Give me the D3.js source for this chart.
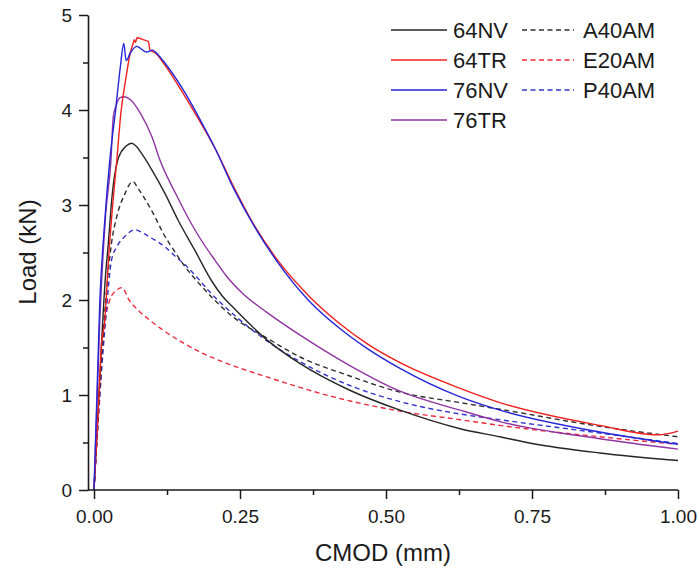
<!DOCTYPE html>
<html>
<head>
<meta charset="utf-8">
<script src="https://cdn.jsdelivr.net/npm/d3@7"></script>
<style>
  html, body { margin: 0; padding: 0; background: #fff; }
  svg { display: block; font-family: "Liberation Sans", Arial, Helvetica, sans-serif; }
</style>
</head>
<body>
<svg id="chart" width="699" height="571"></svg>
<script>
// ---- data ----
const seriesNames = ["64NV", "64TR", "76NV", "76TR", "A40AM", "E20AM", "P40AM"];

const cmod64NV = [0, 0.010, 0.019, 0.0245, 0.031, 0.042, 0.055, 0.0645, 0.072, 0.0817, 0.099, 0.1216, 0.144, 0.173, 0.2015, 0.22, 0.2385, 0.296, 0.353, 0.438, 0.524, 0.627, 0.695, 0.75, 0.866, 1.0];
const load64NV = [0, 1.2, 2.2, 2.6, 3.1, 3.5, 3.62, 3.65, 3.62, 3.54, 3.37, 3.12, 2.84, 2.52, 2.2, 2.04, 1.92, 1.58, 1.33, 1.05, 0.84, 0.645, 0.56, 0.49, 0.39, 0.31];

const cmod64TR = [0, 0.007, 0.013, 0.018, 0.025, 0.032, 0.039, 0.046, 0.055, 0.062, 0.067, 0.069, 0.071, 0.0736, 0.084, 0.093, 0.096, 0.105, 0.1216, 0.156, 0.185, 0.207, 0.2385, 0.275, 0.313, 0.37, 0.421, 0.47, 0.524, 0.627, 0.695, 0.866, 0.966, 1.0];
const load64TR = [0, 0.8, 1.55, 1.75, 2.45, 3.0, 3.47, 3.97, 4.35, 4.6, 4.7, 4.74, 4.71, 4.76, 4.74, 4.72, 4.63, 4.6, 4.47, 4.14, 3.84, 3.6, 3.2, 2.78, 2.43, 2.03, 1.75, 1.53, 1.34, 1.07, 0.92, 0.68, 0.58, 0.62];

const cmod76NV = [0, 0.010, 0.018, 0.027, 0.037, 0.045, 0.051, 0.055, 0.062, 0.073, 0.09, 0.10, 0.11, 0.122, 0.156, 0.185, 0.207, 0.2386, 0.275, 0.313, 0.37, 0.421, 0.47, 0.524, 0.627, 0.695, 0.866, 1.0];
const load76NV = [0, 2.0, 2.8, 3.47, 4.0, 4.45, 4.70, 4.52, 4.6, 4.67, 4.61, 4.63, 4.58, 4.49, 4.18, 3.86, 3.6, 3.18, 2.77, 2.41, 1.98, 1.70, 1.48, 1.28, 0.98, 0.84, 0.61, 0.48];

const cmod76TR = [0, 0.010, 0.020, 0.029, 0.033, 0.038, 0.0445, 0.052, 0.062, 0.079, 0.099, 0.113, 0.1415, 0.167, 0.1815, 0.207, 0.227, 0.256, 0.296, 0.353, 0.438, 0.524, 0.627, 0.695, 0.866, 1.0];
const load76TR = [0, 1.8, 2.9, 3.47, 3.93, 4.05, 4.13, 4.14, 4.11, 3.97, 3.72, 3.47, 3.1, 2.8, 2.65, 2.42, 2.25, 2.06, 1.87, 1.63, 1.31, 1.04, 0.84, 0.72, 0.54, 0.43];

const cmodA40AM = [0, 0.010, 0.020, 0.030, 0.039, 0.053, 0.06, 0.067, 0.075, 0.0845, 0.1015, 0.1187, 0.136, 0.156, 0.179, 0.2015, 0.2385, 0.296, 0.353, 0.438, 0.524, 0.627, 0.695, 0.866, 1.0];
const loadA40AM = [0, 1.1, 2.0, 2.6, 2.88, 3.12, 3.21, 3.245, 3.18, 3.09, 2.91, 2.70, 2.53, 2.35, 2.18, 2.03, 1.82, 1.60, 1.40, 1.20, 1.03, 0.92, 0.85, 0.67, 0.56];

const cmodE20AM = [0, 0.005, 0.010, 0.016, 0.027, 0.038, 0.048, 0.06, 0.076, 0.097, 0.119, 0.176, 0.233, 0.296, 0.41, 0.524, 0.627, 0.695, 0.866, 1.0];
const loadE20AM = [0, 0.5, 1.0, 1.6, 2.0, 2.1, 2.13, 2.0, 1.89, 1.78, 1.68, 1.47, 1.32, 1.19, 0.98, 0.83, 0.74, 0.68, 0.56, 0.48];

const cmodP40AM = [0, 0.010, 0.020, 0.030, 0.039, 0.053, 0.070, 0.085, 0.099, 0.1216, 0.139, 0.156, 0.179, 0.196, 0.2385, 0.296, 0.353, 0.438, 0.524, 0.627, 0.695, 0.866, 1.0];
const loadP40AM = [0, 1.0, 1.8, 2.42, 2.56, 2.67, 2.74, 2.70, 2.65, 2.56, 2.46, 2.37, 2.22, 2.10, 1.85, 1.57, 1.35, 1.10, 0.93, 0.80, 0.74, 0.60, 0.49];

const xTicks = [0, 0.25, 0.5, 0.75, 1.0];
const xMinorTicks = [0.125, 0.375, 0.625, 0.875];
const yTicks = [0, 1, 2, 3, 4, 5];
const yMinorTicks = [0.5, 1.5, 2.5, 3.5, 4.5];

// ---- styles ----
const colors = {"64NV": "#262626", "64TR": "#f0201e", "76NV": "#2424d8", "76TR": "#8e35a0",
                "A40AM": "#2e2e2e", "E20AM": "#ec2a3c", "P40AM": "#3434cc"};
const dashed = {"A40AM": true, "E20AM": true, "P40AM": true};

const data = {
  "64NV": [cmod64NV, load64NV], "64TR": [cmod64TR, load64TR], "76NV": [cmod76NV, load76NV],
  "76TR": [cmod76TR, load76TR], "A40AM": [cmodA40AM, loadA40AM], "E20AM": [cmodE20AM, loadE20AM],
  "P40AM": [cmodP40AM, loadP40AM]
};

const svg = d3.select("#chart");
const x = d3.scaleLinear().domain([-0.0103, 1.0]).range([88, 678]);
const y = d3.scaleLinear().domain([0, 5]).range([490, 15]);

const line = d3.line().x(d => x(d[0])).y(d => y(d[1])).curve(d3.curveMonotoneX);

const drawOrder = ["E20AM", "P40AM", "A40AM", "64NV", "76TR", "64TR", "76NV"];
drawOrder.forEach(name => {
  const [xs, ys] = data[name];
  const pts = xs.map((v, i) => [v, ys[i]]);
  svg.append("path")
    .attr("d", line(pts))
    .attr("fill", "none")
    .attr("stroke", colors[name])
    .attr("stroke-width", 1.4)
    .attr("stroke-dasharray", dashed[name] ? "5,3.5" : null);
});

// axes
const axisColor = "#1a1a1a";
const gx = svg.append("g").attr("transform", "translate(0,490)")
  .call(d3.axisBottom(x).tickValues(xTicks).tickFormat(d3.format(".2f")).tickSize(9).tickPadding(11).tickSizeOuter(0));
const gxm = svg.append("g").attr("transform", "translate(0,490)")
  .call(d3.axisBottom(x).tickValues(xMinorTicks).tickFormat("").tickSize(5).tickSizeOuter(0));
const gy = svg.append("g").attr("transform", "translate(88,0)")
  .call(d3.axisLeft(y).tickValues(yTicks).tickFormat(d3.format("d")).tickSize(9).tickPadding(7).tickSizeOuter(0));
const gym = svg.append("g").attr("transform", "translate(88,0)")
  .call(d3.axisLeft(y).tickValues(yMinorTicks).tickFormat("").tickSize(5).tickSizeOuter(0));

[gx, gxm, gy, gym].forEach(g => {
  g.selectAll(".domain").attr("stroke", axisColor).attr("stroke-width", 1.6);
  g.selectAll(".tick line").attr("stroke", axisColor).attr("stroke-width", 1.5);
  g.selectAll("text").attr("fill", "#1a1a1a").style("font-size", "19px")
    .style("font-family", '"Liberation Sans", Arial, sans-serif');
});
gx.select(".domain").attr("d", `M${x.range()[0]},0H${x.range()[1]}`);
gxm.select(".domain").remove();
gym.select(".domain").remove();

// axis titles
svg.append("text").attr("x", 383).attr("y", 561).attr("text-anchor", "middle")
  .style("font-size", "24px").attr("fill", "#1a1a1a").text("CMOD (mm)");
svg.append("text").attr("transform", "translate(36,252) rotate(-90)").attr("text-anchor", "middle")
  .style("font-size", "24px").attr("fill", "#1a1a1a").text("Load (kN)");

// legend
const legendCols = [["64NV", "64TR", "76NV", "76TR"], ["A40AM", "E20AM", "P40AM"]];
const colX = [[391, 447, 453], [522, 574, 583]];
legendCols.forEach((col, ci) => {
  col.forEach((name, ri) => {
    const ly = 30 + ri * 30;
    svg.append("line").attr("x1", colX[ci][0]).attr("x2", colX[ci][1]).attr("y1", ly).attr("y2", ly)
      .attr("stroke", colors[name]).attr("stroke-width", 1.4)
      .attr("stroke-dasharray", dashed[name] ? "5,3.5" : null);
    svg.append("text").attr("x", colX[ci][2]).attr("y", ly + 8)
      .style("font-size", "22px").attr("fill", "#1a1a1a").text(name);
  });
});
</script>
</body>
</html>
